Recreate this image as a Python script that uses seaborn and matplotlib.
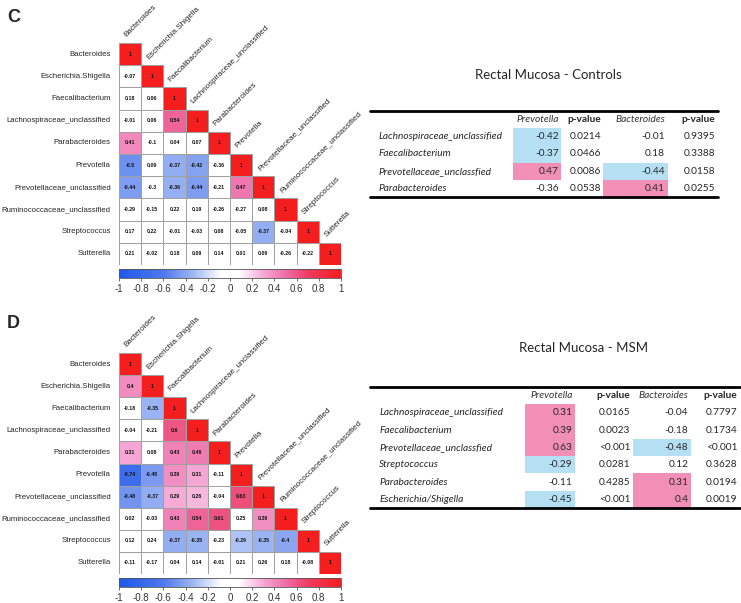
import numpy as np
import pandas as pd
import seaborn as sns
from matplotlib import pyplot as plt
from matplotlib.colors import LinearSegmentedColormap

# taxa of the correlation matrices
taxa = ["Bacteroides", "Escherichia.Shigella", "Faecalibacterium",
        "Lachnospiraceae_unclassified", "Parabacteroides", "Prevotella",
        "Prevotellaceae_unclassified", "Ruminococcaceae_unclassified",
        "Streptococcus", "Sutterella"]

# lower triangle of the correlations, row by row (controls)
ctrl_corr = [
    [1],
    [-0.07, 1],
    [0.18, 0.06, 1],
    [-0.01, 0.06, 0.54, 1],
    [0.41, -0.1, 0.04, 0.07, 1],
    [-0.5, 0.09, -0.37, -0.42, -0.36, 1],
    [-0.44, -0.3, -0.36, -0.44, -0.21, 0.47, 1],
    [-0.29, -0.15, 0.22, 0.19, -0.26, -0.27, 0.08, 1],
    [0.17, 0.22, -0.01, -0.03, 0.08, -0.05, -0.37, -0.04, 1],
    [0.21, -0.02, 0.18, 0.09, 0.14, 0.01, 0.09, -0.26, -0.22, 1],
]
# 1 = significant (cell is coloured)
ctrl_sig = [
    [1],
    [0, 1],
    [0, 0, 1],
    [0, 0, 1, 1],
    [1, 0, 0, 0, 1],
    [1, 0, 1, 1, 0, 1],
    [1, 0, 1, 1, 0, 1, 1],
    [0, 0, 0, 0, 0, 0, 0, 1],
    [0, 0, 0, 0, 0, 0, 1, 0, 1],
    [0, 0, 0, 0, 0, 0, 0, 0, 0, 1],
]

# MSM
msm_corr = [
    [1],
    [0.4, 1],
    [-0.18, -0.35, 1],
    [-0.04, -0.21, 0.6, 1],
    [0.31, 0.08, 0.43, 0.46, 1],
    [-0.74, -0.45, 0.39, 0.31, -0.11, 1],
    [-0.48, -0.37, 0.29, 0.26, -0.04, 0.63, 1],
    [0.02, -0.03, 0.43, 0.54, 0.61, 0.25, 0.39, 1],
    [0.12, 0.24, -0.37, -0.35, -0.23, -0.29, -0.35, -0.40, 1],
    [-0.11, -0.17, 0.04, 0.14, -0.01, 0.21, 0.26, 0.18, -0.08, 1],
]
msm_sig = [
    [1],
    [1, 1],
    [0, 1, 1],
    [0, 0, 1, 1],
    [1, 0, 1, 1, 1],
    [1, 1, 1, 1, 0, 1],
    [1, 1, 1, 1, 0, 1, 1],
    [0, 0, 1, 1, 1, 0, 1, 1],
    [0, 0, 1, 1, 0, 1, 1, 1, 1],
    [0, 0, 0, 0, 0, 0, 0, 0, 0, 1],
]

cbar_ticks = [-1, -0.8, -0.6, -0.4, -0.2, 0, 0.2, 0.4, 0.6, 0.8, 1]
cbar_labels = ["-1", "-0.8", "-0.6", "-0.4", "-0.2", "0", "0.2", "0.4", "0.6", "0.8", "1"]

# tables
tbl_header = ["", "Prevotella", "p-value", "Bacteroides", "p-value"]

ctrl_tbl_taxa = ["Lachnospiraceae_unclassified", "Faecalibacterium",
                 "Prevotellaceae_unclassfied", "Parabacteroides"]
ctrl_prev = [-0.42, -0.37, 0.47, -0.36]
ctrl_prev_p = ["0.0214", "0.0466", "0.0086", "0.0538"]
ctrl_bact = [-0.01, 0.18, -0.44, 0.41]
ctrl_bact_p = ["0.9395", "0.3388", "0.0158", "0.0255"]

msm_tbl_taxa = ["Lachnospiraceae_unclassified", "Faecalibacterium",
                "Prevotellaceae_unclassfied", "Streptococcus",
                "Parabacteroides", "Escherichia/Shigella"]
msm_prev = [0.31, 0.39, 0.63, -0.29, -0.11, -0.45]
msm_prev_p = ["0.0165", "0.0023", "<0.001", "0.0281", "0.4285", "<0.001"]
msm_bact = [-0.04, -0.18, -0.48, 0.12, 0.31, 0.4]
msm_bact_p = ["0.7797", "0.1734", "<0.001", "0.3628", "0.0194", "0.0019"]

sns.set_style("white")
plt.rcParams["font.family"] = ["Liberation Sans", "DejaVu Sans"]

# blue - white - pink - red colour scale
cmap = LinearSegmentedColormap.from_list("corr", [
    (0.0, "#1d58ea"), (0.2, "#4f78ec"), (0.33, "#9db5f3"), (0.46, "#ffffff"),
    (0.54, "#ffffff"), (0.65, "#f6a9d6"), (0.75, "#ee6fa8"), (0.85, "#ee3c62"),
    (1.0, "#f41e1e")])

TBL_BLUE = "#b5e0f4"
TBL_PINK = "#f28fb6"
GRID = "#a0a0a0"


def corr_heatmap(ax, cax, rows, sig):
    n = len(taxa)
    vals = np.full((n, n), np.nan)
    shade = np.full((n, n), np.nan)
    for i, (r, s) in enumerate(zip(rows, sig)):
        vals[i, :i + 1] = r
        shade[i, :i + 1] = np.where(np.array(s) == 1, r, 0)
    annot = np.array([["" if np.isnan(v) else f"{v:g}" for v in row] for row in vals])
    df = pd.DataFrame(shade, index=taxa, columns=taxa)
    sns.heatmap(df, mask=np.isnan(shade), cmap=cmap, vmin=-1, vmax=1,
                annot=annot, fmt="", annot_kws={"fontsize": 3.8, "fontweight": "bold", "color": "#111111"},
                linewidths=0.7, linecolor=GRID, xticklabels=False, yticklabels=taxa,
                cbar=True, cbar_ax=cax, cbar_kws={"orientation": "horizontal", "ticks": cbar_ticks},
                ax=ax)
    # no grid lines around the empty upper triangle
    mesh = ax.collections[0]
    mesh.set_edgecolor([GRID if not np.isnan(v) else (0, 0, 0, 0) for v in shade.ravel()])
    ax.tick_params(axis="y", length=0, pad=6, labelsize=5.6)
    plt.setp(ax.get_yticklabels(), rotation=0)
    # diagonal column labels
    for j, name in enumerate(taxa):
        ax.text(j + 0.4, j - 0.2, name, rotation=45, ha="left", va="bottom",
                rotation_mode="anchor", fontsize=5.8)
    cb = mesh.colorbar
    cb.outline.set_linewidth(0.6)
    cb.outline.set_edgecolor("#555555")
    cax.set_xticklabels(cbar_labels)
    cax.tick_params(axis="x", length=2, width=0.5, colors="#333333", labelsize=7, pad=2)


def corr_table(ax, names, prev, prev_p, bact, bact_p, widths):
    def pnum(p):
        return 0.0009 if p.startswith("<") else float(p)

    def colour(v, p):
        if pnum(p) >= 0.05:
            return "white"
        return TBL_PINK if v > 0 else TBL_BLUE

    text = [tbl_header]
    colours = [["white"] * 5]
    for name, a, pa, b, pb in zip(names, prev, prev_p, bact, bact_p):
        text.append([name, f"{a:g}", pa, f"{b:g}", pb])
        colours.append(["white", colour(a, pa), "white", colour(b, pb), "white"])
    tbl = ax.table(cellText=text, cellColours=colours, colWidths=widths,
                   bbox=[0, 0, 1, 1], cellLoc="right")
    tbl.auto_set_font_size(False)
    tbl.set_fontsize(7.3)
    for (r, c), cell in tbl.get_celld().items():
        cell.set_linewidth(0)
        cell.PAD = 0.05
        props = {"family": ["Lato", "Liberation Sans"]}
        if c == 0:
            props.update(ha="left", fontstyle="italic")
            cell.PAD = 0.06
        if r == 0 and c in (1, 3):
            props.update(fontstyle="italic", color="#333333")
        if r == 0 and c in (2, 4):
            props.update(fontweight="bold")
        cell.set_text_props(**props)
    ax.axhline(1, color="black", lw=2, clip_on=False)
    ax.axhline(0, color="black", lw=2, clip_on=False)
    ax.set_ylim(0, 1)
    ax.axis("off")


W, H = 741, 603
fig = plt.figure(figsize=(W / 100, H / 100), dpi=100)


def box(x0, y0, x1, y1):
    return [x0 / W, 1 - y1 / H, (x1 - x0) / W, (y1 - y0) / H]


# panel C
ax_c = fig.add_axes(box(119, 43, 341, 265))
cax_c = fig.add_axes(box(119, 269, 341, 278))
corr_heatmap(ax_c, cax_c, ctrl_corr, ctrl_sig)

# panel D
ax_d = fig.add_axes(box(119, 353, 341, 574))
cax_d = fig.add_axes(box(119, 578, 341, 587))
corr_heatmap(ax_d, cax_d, msm_corr, msm_sig)

fig.text(7 / W, 1 - 17 / H, "C", fontsize=13, fontweight="bold", va="center", ha="left")
fig.text(7 / W, 1 - 324 / H, "D", fontsize=13, fontweight="bold", va="center", ha="left")

# tables
tax_c = fig.add_axes(box(370, 111, 718, 197))
corr_table(tax_c, ctrl_tbl_taxa, ctrl_prev, ctrl_prev_p, ctrl_bact, ctrl_bact_p,
           [0.411, 0.138, 0.121, 0.187, 0.143])
fig.text(548 / W, 1 - 75 / H, "Rectal Mucosa - Controls", fontsize=9.5,
         family=["Lato", "Liberation Sans"], ha="center", va="center")

tax_d = fig.add_axes(box(370, 387, 740, 508))
corr_table(tax_d, msm_tbl_taxa, msm_prev, msm_prev_p, msm_bact, msm_bact_p,
           [0.419, 0.135, 0.157, 0.157, 0.132])
fig.text(584 / W, 1 - 348 / H, "Rectal Mucosa - MSM", fontsize=9.5,
         family=["Lato", "Liberation Sans"], ha="center", va="center")

fig.savefig("out.png", dpi=100)
